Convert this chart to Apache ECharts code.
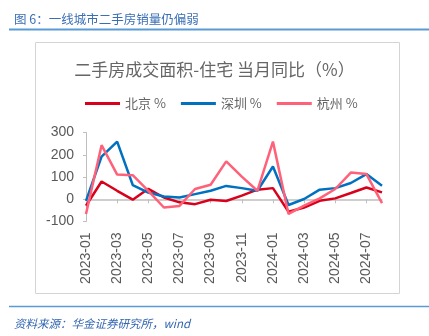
<!DOCTYPE html>
<html>
<head>
<meta charset="utf-8">
<script src="https://cdn.jsdelivr.net/npm/echarts@6/dist/echarts.min.js"></script>
<style>
html,body{margin:0;padding:0;background:#fff;}
#main{width:429px;height:336px;}
</style>
</head>
<body>
<div id="main"></div>
<script>
var categories = ['2023-01','2023-02','2023-03','2023-04','2023-05','2023-06','2023-07','2023-08','2023-09','2023-10','2023-11','2023-12','2024-01','2024-02','2024-03','2024-04','2024-05','2024-06','2024-07','2024-08'];
var beijing  = [-29, 80, 38, -2, 47, 8, -14, -22, -2, -8, 16, 43, 50, -56, -37, -7, 4, 28, 53, 31];
var shenzhen = [-7, 192, 259, 64, 30, 12, 8, 23, 38, 60, 50, 38, 147, -26, 1, 43, 50, 73, 113, 61];
var hangzhou = [-66, 243, 111, 108, 38, -37, -30, 46, 65, 170, 102, 38, 259, -66, -29, 4, 46, 120, 113, -17];
var seriesNames = ['北京 %', '深圳 %', '杭州 %'];
var yTicks = {min: -100, max: 300, interval: 100};

var chart = echarts.init(document.getElementById('main'), null, {renderer: 'canvas'});
var colors = ['#d9001b', '#0070c0', '#ff6179'];
var font = '"Noto Sans CJK SC", "Liberation Sans", sans-serif';

chart.setOption({
  animation: false,
  backgroundColor: '#fff',
  color: colors,
  title: [{
    text: '图 6：一线城市二手房销量仍偏弱',
    left: 9, top: 8,
    textStyle: {fontFamily: font, fontSize: 12.5, fontWeight: 'normal', color: '#3a6fb5'}
  }, {
    text: '二手房成交面积-住宅 当月同比（%）',
    left: 'center', top: 56,
    textStyle: {fontFamily: font, fontSize: 17, fontWeight: 'normal', color: '#666666'}
  }, {
    text: '资料来源：华金证券研究所，wind',
    left: 9, top: 313,
    textStyle: {fontFamily: font, fontSize: 11.5, fontStyle: 'italic', fontWeight: 'normal', color: '#3366b0'}
  }],
  graphic: [
    {type: 'line', shape: {x1: 9, y1: 29.5, x2: 429, y2: 29.5}, style: {stroke: '#5b9bd5', lineWidth: 2}},
    {type: 'rect', shape: {x: 35.5, y: 42.5, width: 364, height: 251}, style: {fill: 'none', stroke: '#d4d4d4', lineWidth: 1}},
    {type: 'line', shape: {x1: 9, y1: 306.5, x2: 429, y2: 306.5}, style: {stroke: '#5b9bd5', lineWidth: 1.5}}
  ],
  legend: {
    top: 92, left: 80,
    icon: 'rect',
    itemWidth: 35, itemHeight: 3, itemGap: 15,
    textStyle: {fontFamily: font, fontSize: 13, color: '#666666'},
    data: seriesNames
  },
  grid: {left: 86, right: 47, top: 132.5, bottom: 114.5, containLabel: false},
  xAxis: [{
    type: 'category',
    data: categories,
    boundaryGap: false,
    axisLine: {show: false, onZero: false},
    axisTick: {show: false},
    axisLabel: {interval: 1, rotate: 90, margin: 11, fontFamily: '"Liberation Sans", Arial, sans-serif', fontSize: 14, color: '#595959'}
  }, {
    type: 'category',
    data: categories,
    boundaryGap: false,
    position: 'bottom',
    axisLine: {show: true, onZero: true, lineStyle: {color: '#bfbfbf', width: 1.5}},
    axisTick: {show: true, interval: 1, length: 4, lineStyle: {color: '#bfbfbf'}},
    axisLabel: {show: false}
  }],
  yAxis: {
    type: 'value',
    min: yTicks.min, max: yTicks.max, interval: yTicks.interval,
    splitLine: {show: false},
    axisLine: {show: true, lineStyle: {color: '#bfbfbf'}},
    axisTick: {show: true, length: 3, lineStyle: {color: '#bfbfbf'}},
    axisLabel: {margin: 12, fontFamily: '"Liberation Sans", Arial, sans-serif', fontSize: 14, color: '#595959'}
  },
  series: [
    {name: seriesNames[0], type: 'line', data: beijing, showSymbol: false, symbol: 'none', lineStyle: {width: 2.5}, z: 3},
    {name: seriesNames[1], type: 'line', data: shenzhen, showSymbol: false, symbol: 'none', lineStyle: {width: 2.5}, z: 4},
    {name: seriesNames[2], type: 'line', data: hangzhou, showSymbol: false, symbol: 'none', lineStyle: {width: 2.5}, z: 5}
  ]
});
</script>
</body>
</html>
